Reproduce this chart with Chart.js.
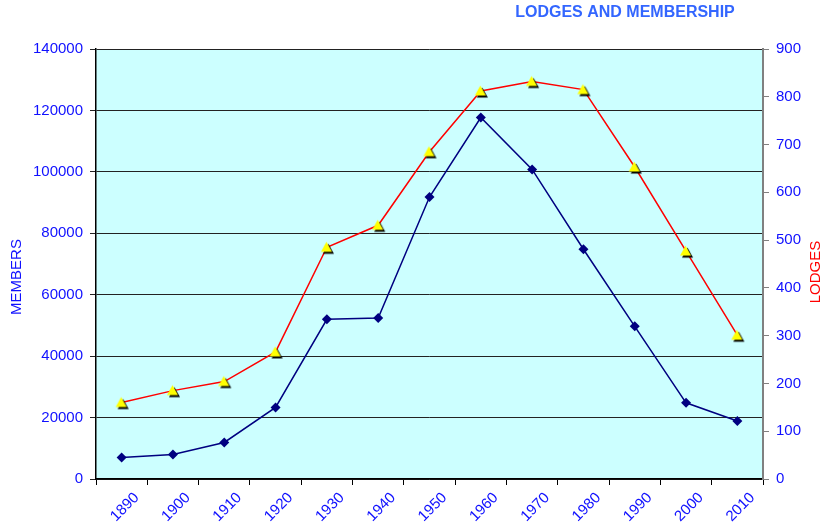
<!DOCTYPE html>
<html>
<head>
<meta charset="utf-8">
<script src="https://cdn.jsdelivr.net/npm/chart.js@4/dist/chart.umd.min.js"></script>
<style>
  html, body { margin: 0; padding: 0; background: #fff; }
  #wrap { width: 822px; height: 531px; }
</style>
</head>
<body>
<div id="wrap"><canvas id="chartCanvas" width="822" height="531"></canvas></div>
<script>
// --- data ---
const decades = ["1890", "1900", "1910", "1920", "1930", "1940", "1950", "1960", "1970", "1980", "1990", "2000", "2010"];
const members = [7000, 8000, 11900, 23300, 52000, 52400, 91800, 117700, 100800, 74800, 49700, 24800, 18900];
const lodges = [160, 185, 204, 266, 485, 531, 685, 812, 832, 815, 653, 477, 301];

const membersTicks = { min: 0, max: 140000, step: 20000 };
const lodgesTicks = { min: 0, max: 900, step: 100 };

const SANS = "'Liberation Sans', Arial, sans-serif";
const BLUE = "#1010ff";

// yellow triangle with a black drop shadow, used as the lodges marker
function triangleMarker() {
  const c = document.createElement("canvas");
  c.width = 18; c.height = 18;
  const g = c.getContext("2d");
  const tri = (dx, dy, col) => {
    g.beginPath();
    g.moveTo(8.5 + dx, 3.5 + dy);
    g.lineTo(14 + dx, 13.5 + dy);
    g.lineTo(3 + dx, 13.5 + dy);
    g.closePath();
    g.fillStyle = col;
    g.fill();
  };
  tri(2, 2, "#000");
  tri(0, 0, "#ffff00");
  return c;
}

// plot background + titles
const decor = {
  id: "decor",
  beforeDraw(chart) {
    const { ctx, chartArea: a } = chart;
    ctx.save();
    ctx.fillStyle = "#ccffff";
    ctx.fillRect(a.left, a.top, a.right - a.left, a.bottom - a.top);
    ctx.restore();
  },
  afterDraw(chart) {
    const { ctx } = chart;
    ctx.save();
    ctx.textAlign = "center";
    ctx.textBaseline = "middle";
    ctx.fillStyle = "#3366ff";
    ctx.font = "bold 16px " + SANS;
    ctx.fillText("LODGES AND MEMBERSHIP", 625, 13);

    ctx.font = "15px " + SANS;
    ctx.translate(17, 277);
    ctx.rotate(-Math.PI / 2);
    ctx.fillStyle = BLUE;
    ctx.fillText("MEMBERS", 0, 0);
    ctx.restore();

    ctx.save();
    ctx.textAlign = "center";
    ctx.textBaseline = "middle";
    ctx.font = "15px " + SANS;
    ctx.translate(816, 272);
    ctx.rotate(-Math.PI / 2);
    ctx.fillStyle = "#ff0000";
    ctx.fillText("LODGES", 0, 0);
    ctx.restore();
  }
};

const canvas = document.getElementById("chartCanvas");

new Chart(canvas, {
  type: "line",
  data: {
    labels: decades,
    datasets: [
      {
        label: "LODGES",
        data: lodges,
        yAxisID: "y1",
        borderColor: "#ff0000",
        borderWidth: 1.5,
        pointStyle: triangleMarker(),
        pointRadius: 6,
        tension: 0
      },
      {
        label: "MEMBERS",
        data: members,
        yAxisID: "y",
        borderColor: "#000080",
        borderWidth: 1.5,
        pointStyle: "rectRot",
        pointRadius: 5,
        pointBackgroundColor: "#000080",
        pointBorderColor: "#000080",
        pointBorderWidth: 0,
        tension: 0
      }
    ]
  },
  options: {
    responsive: false,
    animation: false,
    layout: { padding: { top: 49, left: 0, right: 0, bottom: 0 } },
    plugins: {
      legend: { display: false },
      tooltip: { enabled: false }
    },
    scales: {
      x: {
        offset: true,
        grid: { offset: true, drawOnChartArea: false, drawTicks: true, tickLength: 6, color: "#000" },
        border: { color: "#000", width: 1.5 },
        ticks: {
          autoSkip: false,
          maxRotation: 45,
          minRotation: 45,
          color: BLUE,
          font: { family: SANS, size: 15 },
          padding: 4,
          labelOffset: 15
        },
        afterFit(s) { s.height = 52; }
      },
      y: {
        position: "left",
        min: membersTicks.min,
        max: membersTicks.max,
        ticks: {
          stepSize: membersTicks.step,
          color: BLUE,
          font: { family: SANS, size: 15 },
          padding: 7,
          callback: v => String(v)
        },
        grid: { color: "#222", lineWidth: 1, tickLength: 6 },
        border: { color: "#000", width: 1.5 },
        afterFit(s) { s.width = 96; }
      },
      y1: {
        position: "right",
        min: lodgesTicks.min,
        max: lodgesTicks.max,
        ticks: {
          stepSize: lodgesTicks.step,
          color: BLUE,
          font: { family: SANS, size: 15 },
          padding: 7,
          callback: v => String(v)
        },
        grid: { drawOnChartArea: false, color: "#808080", tickLength: 6 },
        border: { color: "#808080", width: 2 },
        afterFit(s) { s.width = 59; }
      }
    }
  },
  plugins: [decor]
});
</script>
</body>
</html>
